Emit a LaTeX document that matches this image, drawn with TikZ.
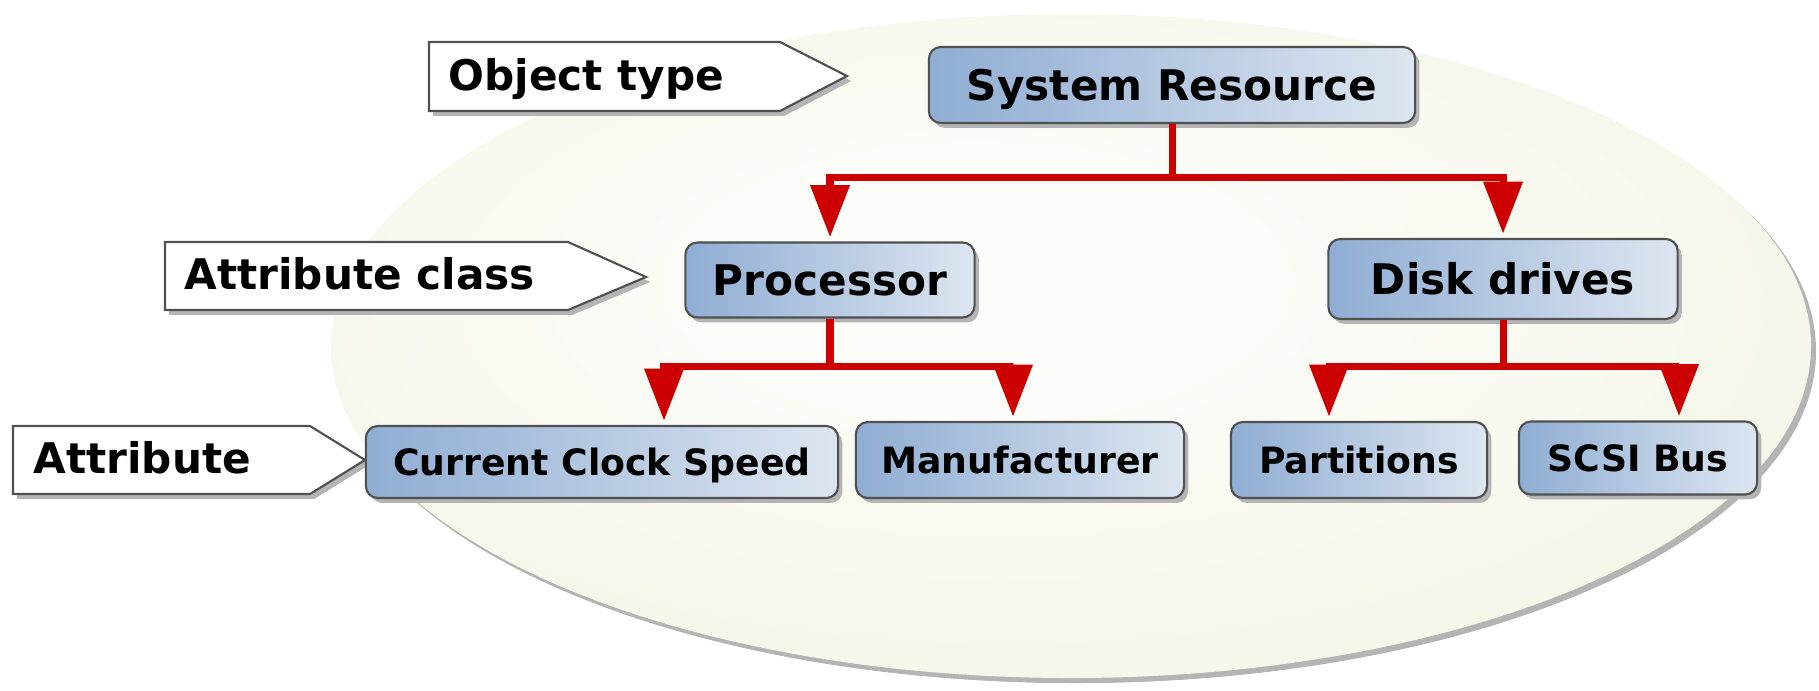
\documentclass[tikz,border=0pt]{standalone}
\usepackage{fontspec}
\setmainfont{DejaVu Sans}
\usepackage{tikz}
\usetikzlibrary{calc}
\usetikzlibrary{arrows.meta}
\usetikzlibrary{shadows}
\definecolor{res-blue1}{RGB}{143, 173, 211}
\definecolor{res-blue2}{RGB}{221, 230, 241}
\definecolor{res-red1}{RGB}{204, 0, 0}
\definecolor{res-gray1}{RGB}{80, 80, 80}
\definecolor{res-gray2}{RGB}{180, 180, 180}
\definecolor{res-olive1}{RGB}{252, 252, 248}
\definecolor{res-olive2}{RGB}{237, 239, 214}
\pgfdeclareradialshading{res-ell}{\pgfpoint{-4bp}{6bp}}{color(0bp)=(res-olive1); color(10bp)=(res-olive1); color(52bp)=(res-olive2)}

\begin{document}
\begin{tikzpicture}[x=0.01cm, y=-0.01cm,
    shade/.style={drop shadow={shadow xshift=1.2pt, shadow yshift=-1.4pt, fill=res-gray2, opacity=1}},
    box/.style={draw=res-gray1, line width=0.6pt, rounded corners=3.4pt, left color=res-blue1, right color=res-blue2, inner sep=0pt, text depth=0pt, shade},
    big/.style={box, font=\bfseries\fontsize{12pt}{14pt}\selectfont, text height=8.75pt},
    small/.style={box, font=\bfseries\fontsize{10.3pt}{12pt}\selectfont, text height=7.5pt},
    tag/.style={draw=res-gray1, line width=0.6pt, fill=white, shade},
    tagtext/.style={font=\bfseries\fontsize{12pt}{14pt}\selectfont, anchor=base west, inner sep=0pt},
    link/.style={res-red1, line width=2pt, -{Triangle[width=10.8pt, length=14.8pt]}, shorten >=1.2pt}]
  \useasboundingbox (0, 0) rectangle (1819, 690);

  % background
  \fill[res-gray2] (1076, 351) ellipse[x radius=740, y radius=332];
  \shade[shading=res-ell] (1071, 346) ellipse[x radius=740, y radius=332];

  % tags on the left
  \draw[tag] (429, 42) -- (780, 42) -- (847, 76) -- (780, 111) -- (429, 111) -- cycle;
  \node[tagtext] (objtype) at (448, 90) {Object type};
  \draw[tag] (165, 242) -- (568, 242) -- (646, 277) -- (568, 310) -- (165, 310) -- cycle;
  \node[tagtext] (attrclass) at (184, 289) {Attribute class};
  \draw[tag] (13, 426) -- (310, 426) -- (365, 460) -- (310, 494) -- (13, 494) -- cycle;
  \node[tagtext] (attr) at (33, 473) {Attribute};

  % boxes
  \node[big, minimum width=4.86cm, minimum height=0.76cm] (sys) at (1172, 85) {System Resource};
  \node[big, minimum width=2.89cm, minimum height=0.75cm] (proc) at (830, 280) {Processor};
  \node[big, minimum width=3.49cm, minimum height=0.80cm] (disk) at (1503, 279) {Disk drives};
  \node[small, minimum width=4.72cm, minimum height=0.72cm] (clock) at (602, 462) {Current Clock Speed};
  \node[small, minimum width=3.28cm, minimum height=0.76cm] (manu) at (1020, 460) {Manufacturer};
  \node[small, minimum width=2.56cm, minimum height=0.76cm] (part) at (1359, 460) {Partitions};
  \node[small, minimum width=2.38cm, minimum height=0.73cm] (scsi) at (1638, 458) {SCSI Bus};

  % links
  \draw[link] (sys.south) -- ++(0, 53) -| (proc.north);
  \draw[link] (sys.south) -- ++(0, 53) -| (disk.north);
  \draw[link] (proc.south) -- ++(0, 48) -| ($(clock.north) + (62, 0)$);
  \draw[link] (proc.south) -- ++(0, 48) -| ($(manu.north) + (-7, 0)$);
  \draw[link] (disk.south) -- ++(0, 46) -| ($(part.north) + (-30, 0)$);
  \draw[link] (disk.south) -- ++(0, 46) -| ($(scsi.north) + (41, 0)$);

\end{tikzpicture}
\end{document}
